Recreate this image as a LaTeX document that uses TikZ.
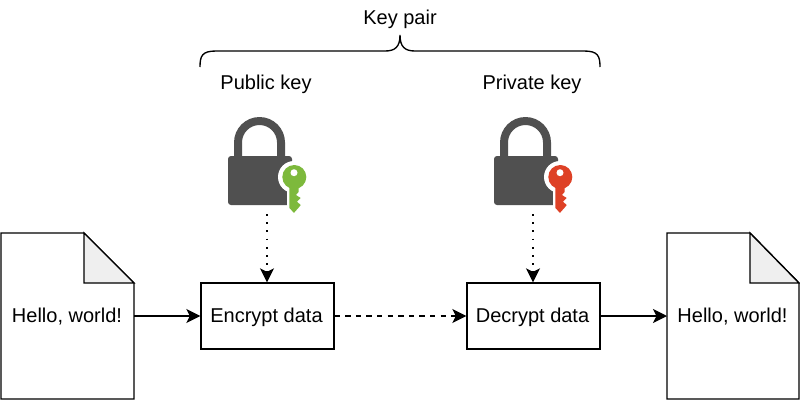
\documentclass[tikz,border=0pt]{standalone}
\usepackage{fontspec}
\setmainfont{Liberation Sans}
\usetikzlibrary{arrows.meta}
\definecolor{lockgrey}{HTML}{505050}
\definecolor{keygreen}{HTML}{7DB93C}
\definecolor{keyred}{HTML}{DE4126}
\definecolor{foldgrey}{HTML}{EFEFEF}
\tikzset{
  x=1pt,y=-1pt,
  every node/.style={font=\fontsize{20pt}{24pt}\selectfont,text=black,inner sep=0pt},
  edge/.style={line width=1.35pt,black},
  flow/.style={edge,-{Stealth[length=14pt,width=14pt,inset=3.5pt]}},
  dotflow/.style={flow,dash pattern=on 1.7pt off 6.5pt},
  dashflow/.style={flow,dash pattern=on 5.3pt off 5.3pt},
  procbox/.style={draw=black,line width=1.35pt,fill=white,minimum width=133pt,minimum height=66pt},
  docline/.style={draw=black,line width=1.35pt,line join=miter},
  pics/padlock/.style={code={
    \fill[lockgrey] (234,156) -- (234,142.5) arc[start angle=180,end angle=360,radius=25.5] -- (285,156) -- (277,156) -- (277,142.5) arc[start angle=360,end angle=180,radius=17.5] -- (242,156) -- cycle;
    \fill[lockgrey,rounded corners=3pt] (228,156) -- (292,156) -- (292,205) -- (228,205) -- cycle;
    \fill[white] (294,177) circle[radius=16];
    \fill[white] (287,190) rectangle (300,207);
    \fill[#1] (294.3,177) circle[radius=12];
    \fill[#1] (289.3,185) -- (298.5,185) -- (298.5,192) -- (296,195) -- (300.7,198) -- (297,201.7) -- (300.7,205) -- (298.3,208) -- (294,212.8) -- (289.3,208) -- cycle;
    \fill[white] (294,172.7) circle[radius=3.5];
  }},
}
\begin{document}
\begin{tikzpicture}
\useasboundingbox (0,0) rectangle (800,400);
\fill[white] (0,0) rectangle (800,400);
% documents
\draw[docline,fill=white] (1,233) -- (84,233) -- (134,283) -- (134,399) -- (1,399) -- cycle;
\draw[docline,fill=foldgrey] (84,233) -- (84,283) -- (134,283) -- cycle;
\draw[docline,fill=white] (667,233) -- (750,233) -- (799,283) -- (799,399) -- (667,399) -- cycle;
\draw[docline,fill=foldgrey] (750,233) -- (750,283) -- (799,283) -- cycle;
\node (docl) at (67,317) {Hello, world!};
\node (docr) at (732.5,317) {Hello, world!};
\coordinate (doclout) at (134,316);
\coordinate (docrin) at (667,316);
% process boxes
\node[procbox] (enc) at (267.5,316) {};
\node[procbox] (dec) at (533.5,316) {};
\node (enctext) at (266.5,317) {Encrypt data};
\node (dectext) at (532.5,317) {Decrypt data};
% headings
\node (pair) at (400,19.5) {Key pair};
\node (pub) at (266,84.5) {Public key};
\node (priv) at (532,84.5) {Private key};
% brace
\coordinate (bl) at (200,67);
\coordinate (bt) at (400,35);
\coordinate (br) at (600,67);
\draw[edge] (bl) .. controls (200,56) and (202,51) .. (216,51) -- (385,51) .. controls (395,51) and (400,47) .. (bt) .. controls (400,47) and (405,51) .. (415,51) -- (584,51) .. controls (598,51) and (600,56) .. (br);
% padlocks
\pic {padlock=keygreen};
\begin{scope}[shift={(266,0)}]
\pic {padlock=keyred};
\end{scope}
\coordinate (lockl) at (267,214);
\coordinate (lockr) at (533,214);
% connectors
\draw[flow] (doclout) -- (enc.west);
\draw[dashflow] (enc.east) -- (dec.west);
\draw[flow] (dec.east) -- (docrin);
\draw[dotflow] (lockl) -- (lockl |- enc.north);
\draw[dotflow] (lockr) -- (lockr |- dec.north);
\end{tikzpicture}
\end{document}
